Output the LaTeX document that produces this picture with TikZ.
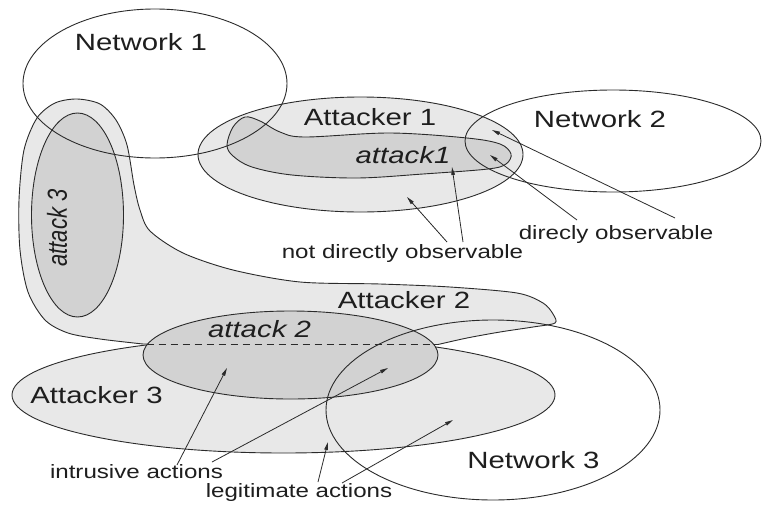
\documentclass[tikz,border=0pt]{standalone}
\usepackage{fontspec}
\setmainfont{Liberation Sans}
\newfontfamily\lab[FakeStretch=1.25]{Liberation Sans}
\newfontfamily\labr{Liberation Sans}
\usetikzlibrary{arrows.meta}
\definecolor{ln}{HTML}{2B2B2B}
\definecolor{lite}{HTML}{E8E8E8}
\definecolor{dark}{HTML}{D2D2D2}
\definecolor{txt}{HTML}{1E1E1E}
\begin{document}
\begin{tikzpicture}[x=1pt,y=-1pt,
  outl/.style={draw=ln,line width=0.9pt},
  attacker/.style={outl,fill=lite},
  attackr/.style={outl,fill=dark},
  net/.style={outl},
  big/.style={text=txt,inner sep=0pt,anchor=base,font=\lab\fontsize{23.5}{28}\selectfont},
  bigit/.style={text=txt,inner sep=0pt,anchor=base,font=\lab\itshape\fontsize{23.5}{28}\selectfont},
  small/.style={text=txt,inner sep=0pt,anchor=base,font=\lab\fontsize{19.3}{23}\selectfont},
  arr/.style={draw=ln,line width=0.8pt,-{Triangle[length=8pt,width=3.6pt]}}
]
\useasboundingbox[fill=white] (0,0) rectangle (762,506);

% Attacker 1 and attack1
\draw[attacker] (360.5,154.5) ellipse [x radius=162.5pt, y radius=57.5pt];
\draw[attackr] plot[smooth cycle, tension=0.55] coordinates {
  (227,145) (233,127) (245,117) (260,121) (280,132) (305,137) (390,133)
  (467,138) (500,144) (511,154) (506,164) (488,169) (423,174) (357,178)
  (292,175) (252,167) (233,156)};

% Attacker 3
\draw[attacker] (283.5,395) ellipse [x radius=271.5pt, y radius=58pt];

% Attacker 2
\draw[attacker] plot[smooth, tension=0.5] coordinates {
  (143,344) (100,339) (68,333) (45,320) (28,292) (20,250)
  (19,200) (24,150) (37,118) (55,103)
  (77,99) (100,104) (116,120) (127,145) (134,185) (140,210) (150,231)
  (183,253) (233,270) (300,282) (380,284) (450,287) (517,293) (543,303)
  (553,314) (555,323) (533,327) (500,332) (467,338) (438,344.5)} -- cycle;

% attack 3 and attack 2
\draw[attackr] (77.5,215) ellipse [x radius=46pt, y radius=102pt];
\draw[attackr] (290.5,355) ellipse [x radius=147.5pt, y radius=44pt];
\coordinate (dl) at (146.5,344.3);
\coordinate (dr) at (434.5,344.3);
\draw[draw=ln,line width=0.9pt,dash pattern=on 7pt off 5pt] (dl) -- (dr);

% Networks
\draw[net] (155,83.5) ellipse [x radius=132pt, y radius=74.5pt];
\draw[net] (613,141) ellipse [x radius=148pt, y radius=51pt];
\draw[net] (493,410) ellipse [x radius=167pt, y radius=90pt];

% Labels
\node[big] (n1) at (141,50) {Network 1};
\node[big] (a1) at (370,125) {Attacker 1};
\node[bigit] (t1) at (403,163) {attack1};
\node[big] (n2) at (600,127) {Network 2};
\node[small] (dob) at (616,239) {direcly observable};
\node[small] (ndob) at (402.5,258) {not directly observable};
\node[big] (a2) at (404,308) {Attacker 2};
\node[bigit] (t2) at (259.5,337) {attack 2};
\node[big] (a3) at (96.5,403) {Attacker 3};
\node[small] (ia) at (136.5,478) {intrusive actions};
\node[small] (la) at (299,497) {legitimate actions};
\node[big] (n3) at (533.5,468) {Network 3};
\node[text=txt,inner sep=0pt,rotate=90,font=\labr\itshape\fontsize{22}{26}\selectfont] (t3) at (57,228) {\scalebox{1}[1.25]{attack 3}};

% Arrow end points
\coordinate (dobA) at (675,218);  \coordinate (dobAh) at (492,130);
\coordinate (dobB) at (577,220);  \coordinate (dobBh) at (490,155);
\coordinate (ndA) at (447,242);   \coordinate (ndAh) at (407,197);
\coordinate (ndB) at (463,242);   \coordinate (ndBh) at (452,167);
\coordinate (iaA) at (177,465);   \coordinate (iaAh) at (227,368);
\coordinate (iaB) at (212,462);   \coordinate (iaBh) at (388,368);
\coordinate (laA) at (318,482);   \coordinate (laAh) at (328,442);
\coordinate (laB) at (342,483);   \coordinate (laBh) at (453,420);

\draw[arr] (dobA) -- (dobAh);
\draw[arr] (dobB) -- (dobBh);
\draw[arr] (ndA) -- (ndAh);
\draw[arr] (ndB) -- (ndBh);
\draw[arr] (iaA) -- (iaAh);
\draw[arr] (iaB) -- (iaBh);
\draw[arr] (laA) -- (laAh);
\draw[arr] (laB) -- (laBh);
\end{tikzpicture}
\end{document}
